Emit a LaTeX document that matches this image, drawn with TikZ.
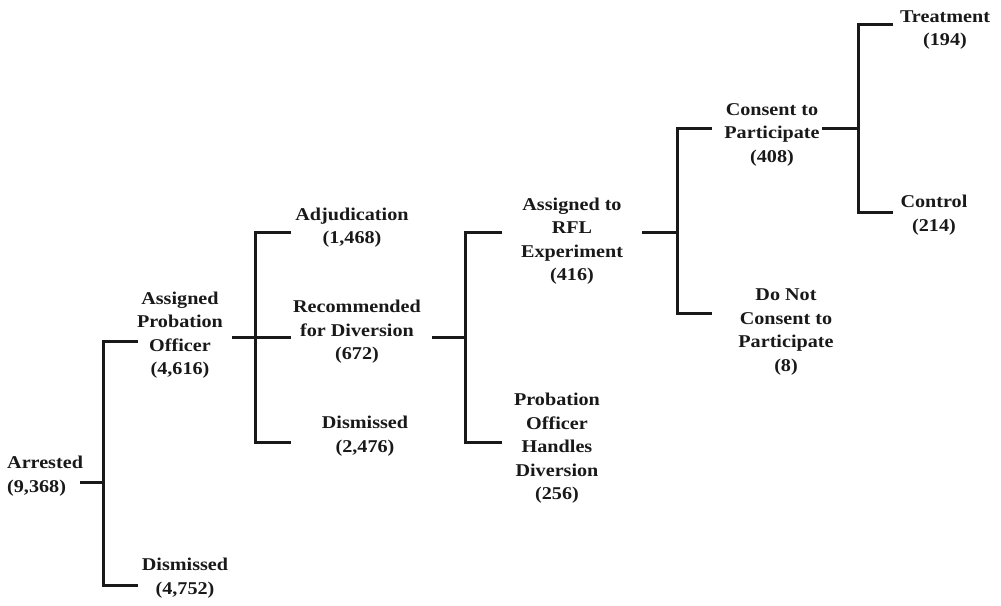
\documentclass[tikz,border=0pt]{standalone}
\usepackage{fontspec}
\setmainfont{Liberation Serif}[FakeStretch=1.12]
\begin{document}
\begin{tikzpicture}[x=1pt,y=-1pt,
  lbl/.style={font=\bfseries\fontsize{18}{23.5}\selectfont, align=center, inner sep=0pt, text=black!90},
  branch/.style={line width=3pt, line join=miter, black!90}]
\useasboundingbox (0,0) rectangle (1001,605);
% labels
\node[lbl, anchor=west, align=left] (arr) at (7,476) {Arrested\\(9,368)};
\node[lbl] (po) at (180,335) {Assigned\\Probation\\Officer\\(4,616)};
\node[lbl] (dis1) at (185,578) {Dismissed\\(4,752)};
\node[lbl] (adj) at (352,227.5) {Adjudication\\(1,468)};
\node[lbl] (rec) at (357,332) {Recommended\\for Diversion\\(672)};
\node[lbl] (dis2) at (365,436) {Dismissed\\(2,476)};
\node[lbl] (rfl) at (572,241) {Assigned to\\RFL\\Experiment\\(416)};
\node[lbl] (poh) at (557,448.5) {Probation\\Officer\\Handles\\Diversion\\(256)};
\node[lbl] (con) at (772,134.5) {Consent to\\Participate\\(408)};
\node[lbl] (dnc) at (786,332) {Do Not\\Consent to\\Participate\\(8)};
\node[lbl] (trt) at (945,30) {Treatment\\(194)};
\node[lbl] (ctl) at (934,215) {Control\\(214)};
% connector points
\coordinate (arr-o) at (80,482);
\coordinate (j1t) at (103,341); \coordinate (j1b) at (103,585);
\coordinate (po-i) at (138,341); \coordinate (dis1-i) at (138,585);
\coordinate (po-o) at (232,337);
\coordinate (j2t) at (255,232); \coordinate (j2b) at (255,442);
\coordinate (adj-i) at (291,232); \coordinate (rec-i) at (291,337); \coordinate (dis2-i) at (291,442);
\coordinate (rec-o) at (432,337);
\coordinate (j3t) at (465,232); \coordinate (j3b) at (465,442);
\coordinate (rfl-i) at (502,232); \coordinate (poh-i) at (502,442);
\coordinate (rfl-o) at (642,232);
\coordinate (j4t) at (677,128); \coordinate (j4b) at (677,313);
\coordinate (con-i) at (712,128); \coordinate (dnc-i) at (712,313);
\coordinate (con-o) at (822,128);
\coordinate (j5t) at (858,24); \coordinate (j5b) at (858,212);
\coordinate (trt-i) at (893,24); \coordinate (ctl-i) at (893,212);
% connectors
\draw[branch] (arr-o) -- (arr-o -| j1t);
\draw[branch] (po-i) -- (j1t) -- (j1b) -- (dis1-i);
\draw[branch] (po-o) -- (rec-i);
\draw[branch] (adj-i) -- (j2t) -- (j2b) -- (dis2-i);
\draw[branch] (rec-o) -- (rec-o -| j3t);
\draw[branch] (rfl-i) -- (j3t) -- (j3b) -- (poh-i);
\draw[branch] (rfl-o) -- (rfl-o -| j4t);
\draw[branch] (con-i) -- (j4t) -- (j4b) -- (dnc-i);
\draw[branch] (con-o) -- (con-o -| j5t);
\draw[branch] (trt-i) -- (j5t) -- (j5b) -- (ctl-i);
\end{tikzpicture}
\end{document}
